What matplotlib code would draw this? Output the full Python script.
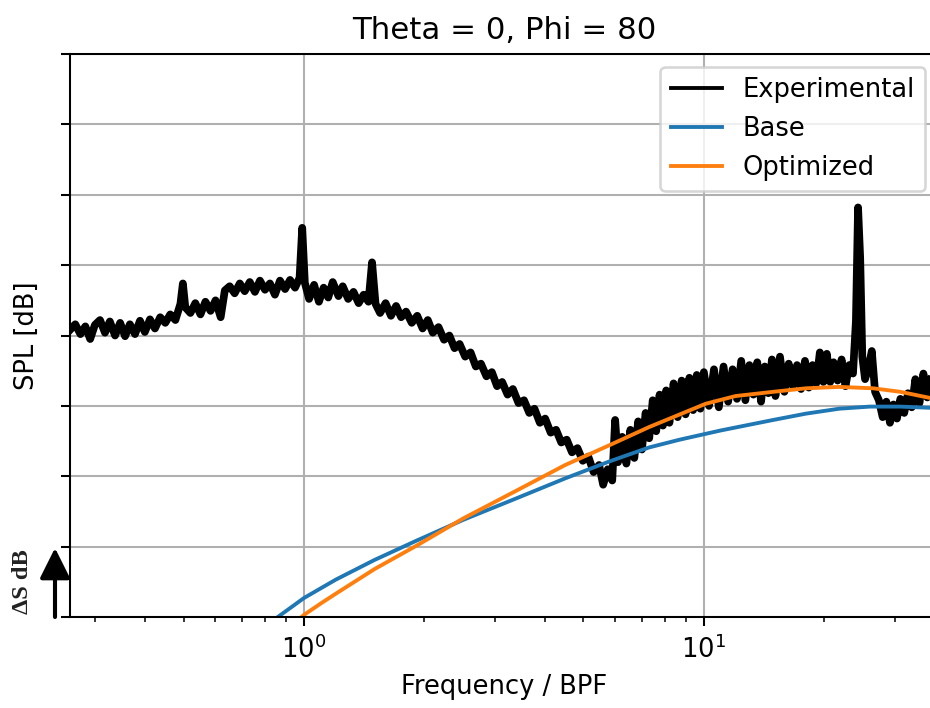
"""
SPL spectrum at Theta = 0, Phi = 80: experiment vs. base / optimized model
"""
import matplotlib
matplotlib.use('Agg')
import matplotlib.pyplot as plt
from matplotlib.ticker import NullFormatter

# experimental narrow-band spectrum (dB above axis bottom)
exp_freq = [0.260, 0.268, 0.276, 0.284, 0.292, 0.300, 0.309, 0.318, 0.327, 0.337,
            0.347, 0.357, 0.367, 0.378, 0.389, 0.400, 0.412, 0.424, 0.437, 0.450,
            0.463, 0.477, 0.491, 0.498, 0.505, 0.520, 0.535, 0.551, 0.567, 0.584,
            0.601, 0.619, 0.634, 0.652, 0.671, 0.691, 0.711, 0.732, 0.754, 0.776,
            0.799, 0.822, 0.846, 0.871, 0.897, 0.923, 0.950, 0.975, 0.990, 1.005,
            1.03, 1.06, 1.09, 1.12, 1.15, 1.18, 1.22, 1.25, 1.29, 1.33,
            1.37, 1.41, 1.45, 1.48, 1.51, 1.55, 1.60, 1.65, 1.70, 1.75,
            1.80, 1.86, 1.92, 1.98, 2.04, 2.10, 2.17, 2.24, 2.31, 2.38,
            2.45, 2.53, 2.61, 2.69, 2.77, 2.86, 2.95, 3.04, 3.13, 3.23,
            3.33, 3.44, 3.55, 3.66, 3.77, 3.89, 4.01, 4.14, 4.27, 4.40,
            4.54, 4.68, 4.83, 4.98, 5.14, 5.30, 5.47, 5.60, 5.75, 5.90,
            6.00, 6.10, 6.25, 6.40, 6.55, 6.70, 6.85, 7.00, 7.15, 7.30,
            7.45, 7.60, 7.75, 7.90, 8.05, 8.20, 8.40, 8.60, 8.80, 9.00,
            9.20, 9.40, 9.60, 9.80, 10.0, 10.3, 10.6, 10.9, 11.2, 11.5,
            11.8, 12.1, 12.4, 12.7, 13.0, 13.3, 13.6, 13.9, 14.2, 14.5,
            14.8, 15.1, 15.5, 15.9, 16.3, 16.7, 17.1, 17.5, 17.9, 18.3,
            18.7, 19.1, 19.5, 19.9, 20.3, 20.7, 21.1, 21.6, 22.1, 22.6,
            23.1, 23.6, 24.0, 24.3, 24.6, 24.9, 25.3, 25.8, 26.3, 26.8,
            27.4, 28.0, 28.6, 29.2, 29.8, 30.4, 31.0, 31.7, 32.4, 33.1,
            33.8, 34.6, 35.4, 36.2, 37.0, 37.8, 38.6]
exp_spl = [40.8, 41.6, 40.2, 41.3, 39.5, 41.5, 42.2, 40.4, 42.0, 40.0,
           41.8, 39.9, 41.6, 40.2, 42.1, 40.5, 42.3, 41.0, 42.6, 41.8,
           43.0, 42.2, 44.5, 47.4, 44.0, 43.2, 44.6, 43.0, 44.8, 43.5,
           45.0, 42.6, 46.4, 47.0, 46.0, 47.4, 46.3, 47.6, 46.2, 47.8,
           46.5, 47.4, 45.8, 47.8, 46.6, 47.9, 46.8, 48.2, 55.3, 47.5,
           45.2, 47.2, 44.8, 46.8, 45.4, 47.6, 45.6, 47.0, 45.2, 46.2,
           44.6, 45.8, 44.8, 50.4, 44.5, 43.2, 44.6, 42.8, 44.2, 42.6,
           43.4, 41.8, 42.8, 41.0, 42.2, 40.4, 41.2, 39.4, 40.0, 38.2,
           38.8, 37.0, 37.6, 35.6, 36.0, 34.2, 34.8, 32.8, 33.4, 31.6,
           32.4, 30.4, 30.8, 29.0, 29.6, 27.6, 28.2, 26.2, 26.6, 24.8,
           25.2, 23.4, 24.0, 22.2, 22.8, 20.6, 21.6, 18.8, 21.0, 19.4,
           28.0, 22.0, 25.6, 21.8, 26.6, 22.6, 27.8, 23.8, 29.0, 25.4,
           30.8, 26.4, 31.6, 27.2, 32.2, 27.6, 33.2, 28.4, 33.6, 28.8,
           34.0, 29.4, 34.4, 29.6, 34.8, 30.0, 35.2, 29.8, 35.6, 30.6,
           35.2, 31.0, 36.4, 30.8, 35.8, 31.6, 36.2, 30.6, 35.6, 31.8,
           36.6, 31.4, 37.0, 32.0, 36.0, 32.8, 35.8, 32.4, 36.4, 32.6,
           35.8, 33.2, 37.6, 33.4, 37.4, 33.4, 36.2, 33.6, 36.6, 32.8,
           35.8, 34.6, 42.0, 58.2, 51.0, 37.0, 33.8, 35.4, 37.8, 32.0,
           30.8, 28.4, 30.6, 27.6, 30.2, 28.2, 31.0, 29.0, 31.8, 29.8,
           33.8, 30.4, 34.6, 31.2, 33.8, 32.0, 33.0]

# base model
base_freq = [0.80, 0.86, 0.93, 1.0, 1.2, 1.5, 1.92, 2.5, 3.41, 4.5,
             5.8, 7.3, 8.7, 11.0, 14.9, 18.0, 21.8, 26.0, 31.0, 38.0, 40.0]
base_spl = [-1.3, 0.0, 1.4, 2.7, 5.3, 8.1, 10.9, 13.8, 16.9, 19.7,
            22.1, 24.1, 25.2, 26.5, 28.0, 28.9, 29.6, 29.9, 29.9, 29.7, 29.6]

# optimized model
opt_freq = [0.95, 1.0, 1.1, 1.2, 1.5, 1.92, 2.5, 3.41, 4.5, 5.8,
            7.3, 10.1, 12.0, 14.9, 18.0, 21.8, 26.5, 31.0, 37.0, 40.0]
opt_spl = [-0.8, 0.3, 1.9, 3.3, 6.8, 10.2, 14.0, 18.0, 21.6, 24.4,
           27.0, 30.3, 31.4, 32.0, 32.5, 32.7, 32.5, 32.0, 31.1, 30.6]

y_ticks = [0, 10, 20, 30, 40, 50, 60, 70, 80]

fig = plt.figure(figsize=(931 / 185, 708 / 185), dpi=185)
ax = fig.add_axes([0.0752, 0.1285, 0.9323, 0.7952])

ax.plot(exp_freq, exp_spl, color='k', lw=3.0, label='Experimental')
ax.plot(base_freq, base_spl, color='C0', label='Base')
ax.plot(opt_freq, opt_spl, color='C1', label='Optimized')

ax.set_xscale('log')
ax.set_xlim(0.26, 38.5)
ax.set_ylim(y_ticks[0], y_ticks[-1])
ax.set_yticks(y_ticks)
ax.set_yticklabels([])
ax.xaxis.set_minor_formatter(NullFormatter())
ax.grid(True)

ax.set_title('Theta = 0, Phi = 80')
ax.set_xlabel('Frequency / BPF')
ax.set_ylabel('SPL [dB]')
ax.yaxis.set_label_coords(-0.035, 0.5)
leg = ax.legend(loc='upper right')
leg.get_lines()[0].set_linewidth(1.5)

# scale arrow for one grid step
ax.annotate('', xy=(55 / 931, 1 - 548 / 708), xytext=(55 / 931, 1 - 617 / 708),
            xycoords='figure fraction', textcoords='figure fraction',
            arrowprops=dict(arrowstyle='-|>,head_length=0.4,head_width=0.2',
                            mutation_scale=25, lw=1.6, color='k',
                            shrinkA=0, shrinkB=0))
fig.text(23 / 931, 1 - 582 / 708, 'ΔS dB', rotation=90, ha='center', va='center',
         family='Liberation Serif', weight='bold', fontsize=9.5, color='#222222')

fig.savefig('out.png', dpi=185)
